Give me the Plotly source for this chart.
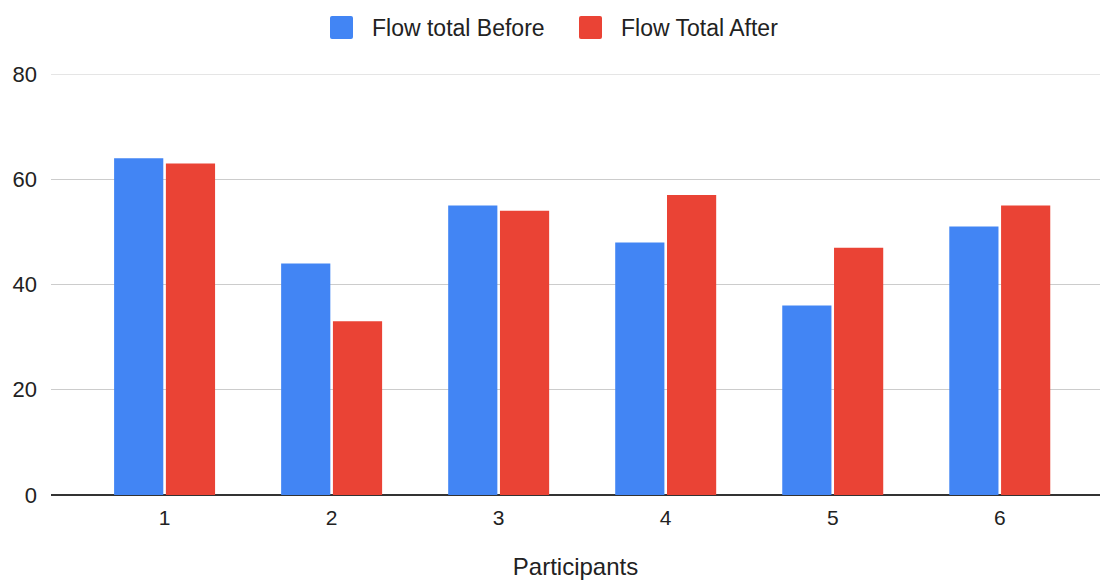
import plotly.graph_objects as go

participants = ["1", "2", "3", "4", "5", "6"]
flow_before = [64, 44, 55, 48, 36, 51]
flow_after = [63, 33, 54, 57, 47, 55]
series_names = ["Flow total Before", "Flow Total After"]
series_colors = ["#4285F4", "#EA4335"]
y_ticks = [0, 20, 40, 60, 80]

W, H = 1102, 580
M_L, M_R, M_T, M_B = 51, 2, 74, 85
PLOT_W = W - M_L - M_R
PLOT_H = H - M_T - M_B
GRID_COLOR = "#cccccc"


def px_x(px):
    return (px - M_L) / PLOT_W


def px_y(py):
    return (H - M_B - py) / PLOT_H


fig = go.Figure()
for name, vals, color in zip(series_names, [flow_before, flow_after], series_colors):
    fig.add_trace(go.Bar(x=participants, y=vals, name=name, showlegend=False,
                         marker=dict(color=color, line=dict(width=0))))

font_family = "Liberation Sans, Arial, sans-serif"

# Top gridline sits on the edge of the value range, so draw it explicitly
shapes = [dict(type="line", xref="paper", yref="y", x0=0, x1=1,
               y0=y_ticks[-1], y1=y_ticks[-1], layer="below",
               line=dict(color=GRID_COLOR, width=1))]
annotations = []

# Legend drawn as rounded swatches with text labels above the plot
legend_items = [(330, 370), (579, 619)]
for (sx, tx), name, color in zip(legend_items, series_names, series_colors):
    x0, x1 = px_x(sx), px_x(sx + 23)
    y0, y1 = px_y(39), px_y(16)
    rx = 2 / PLOT_W
    ry = 2 / PLOT_H
    path = (f"M {x0+rx},{y0} L {x1-rx},{y0} Q {x1},{y0} {x1},{y0+ry} "
            f"L {x1},{y1-ry} Q {x1},{y1} {x1-rx},{y1} L {x0+rx},{y1} "
            f"Q {x0},{y1} {x0},{y1-ry} L {x0},{y0+ry} Q {x0},{y0} {x0+rx},{y0} Z")
    shapes.append(dict(type="path", path=path, xref="paper", yref="paper",
                       fillcolor=color, line=dict(width=0)))
    annotations.append(dict(text=name, x=px_x(tx), y=px_y(28), xref="paper", yref="paper",
                            xanchor="left", yanchor="middle", showarrow=False,
                            font=dict(size=23, color="#222", family=font_family)))

fig.update_layout(
    width=W, height=H,
    margin=dict(l=M_L, r=M_R, t=M_T, b=M_B),
    paper_bgcolor="white", plot_bgcolor="white",
    barmode="group", bargap=0.38, bargroupgap=0.05,
    font=dict(family=font_family, size=20, color="#222"),
    showlegend=False,
    shapes=shapes,
    annotations=annotations,
    xaxis=dict(type="category", range=[-0.68, 5.6], showgrid=False,
               showline=False, ticks="", tickfont=dict(size=21),
               ticklabelstandoff=8,
               title=dict(text="Participants", font=dict(size=24), standoff=30)),
    yaxis=dict(range=[0, 80], tickvals=y_ticks, showgrid=True,
               gridcolor=GRID_COLOR, gridwidth=1, zeroline=True,
               zerolinecolor="#333333", zerolinewidth=2, ticks="",
               ticklabelstandoff=13, tickfont=dict(size=22)),
)

fig.write_html("out.html")
